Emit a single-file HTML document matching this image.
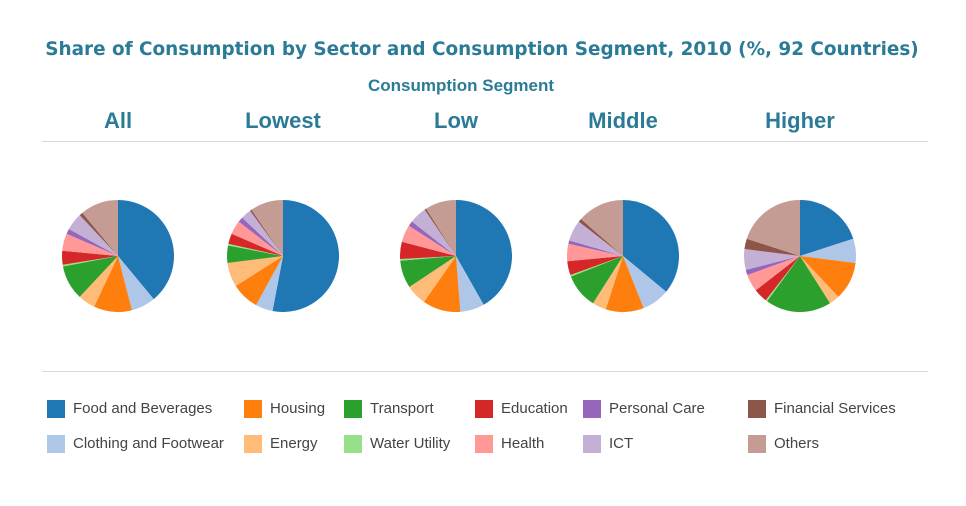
<!DOCTYPE html>
<html><head><meta charset="utf-8"><style>
body{margin:0;width:966px;height:506px;background:#fff;overflow:hidden;font-family:"Liberation Sans",sans-serif;}
#wrap{position:relative;width:966px;height:506px;}
.t{position:absolute;color:#2b7b97;font-weight:bold;white-space:nowrap;transform:translateX(-50%);}
.lg{position:absolute;font-size:15px;color:#444;}
.sw{position:absolute;width:18px;height:18px;}
.hr{position:absolute;left:42px;width:886px;height:1px;background:#d8d8d8;}
</style></head><body>
<div id="wrap">
<div class="t" style="left:482px;top:39px;font-size:18.4px;font-family:'DejaVu Sans',sans-serif;">Share of Consumption by Sector and Consumption Segment, 2010 (%, 92 Countries)</div>
<div class="t" style="left:461px;top:76px;font-size:17px;">Consumption Segment</div>
<div class="hr" style="top:141px"></div>
<div class="hr" style="top:371px"></div>
<svg id="svg" width="966" height="506" style="position:absolute;left:0;top:0"></svg>
<div id="legend"></div>
</div>
<script>
const segments=["All","Lowest","Low","Middle","Higher"];
const sectors=["Food and Beverages","Clothing and Footwear","Housing","Energy","Transport","Water Utility","Education","Health","Personal Care","ICT","Financial Services","Others"];
const colors=["#1f77b4","#aec7e8","#ff7f0e","#ffbb78","#2ca02c","#98df8a","#d62728","#ff9896","#9467bd","#c5b0d5","#8c564b","#c49c94"];
const allVals=[39,7,11,5,10,0.5,4,5,1.5,5,1,11];
const lowestVals=[53,5,8,7,5,0.5,3,4,1.5,3,0.5,9.5];
const lowVals=[42,7,11,6,8,0.5,5,5,1.5,5,0.5,9];
const middleVals=[36,8,11,4,10,0.5,4,5,1,6,1,13.5];
const higherVals=[20,7,11,3,19,0.5,4,5,1.5,6,3,20];
const series=[allVals,lowestVals,lowVals,middleVals,higherVals];
const cx=[118,283,456,623,800], cy=256, R=56;
const svg=document.getElementById('svg'),ns='http://www.w3.org/2000/svg',wrap=document.getElementById('wrap');
segments.forEach((s,i)=>{
  const h=document.createElement('div');h.className='t';h.textContent=s;
  h.style.left=cx[i]+'px';h.style.top='108px';h.style.fontSize='22px';
  
  
  wrap.appendChild(h);
  const v=series[i],tot=v.reduce((a,b)=>a+b,0);let a0=0;
  v.forEach((val,j)=>{
    const a1=a0+val/tot*2*Math.PI;
    const x0=cx[i]+R*Math.sin(a0),y0=cy-R*Math.cos(a0),x1=cx[i]+R*Math.sin(a1),y1=cy-R*Math.cos(a1);
    const p=document.createElementNS(ns,'path');
    p.setAttribute('d',`M${cx[i]},${cy}L${x0},${y0}A${R},${R} 0 ${a1-a0>Math.PI?1:0} 1 ${x1},${y1}Z`);
    p.setAttribute('fill',colors[j]);
    
    
    svg.appendChild(p);a0=a1;
  });
});
const lx=[47,244,344,475,583,748];
sectors.forEach((n,k)=>{
  const col=Math.floor(k/2),row=k%2,y=row?435:400;
  const sw=document.createElement('div');sw.className='sw';sw.style.left=lx[col]+'px';sw.style.top=y+'px';sw.style.background=colors[k];
  
  
  const t=document.createElement('div');t.className='lg';t.textContent=n;t.style.left=(lx[col]+26)+'px';t.style.top=(y)+'px';
  
  
  wrap.appendChild(sw);wrap.appendChild(t);
});
</script>
</body></html>
